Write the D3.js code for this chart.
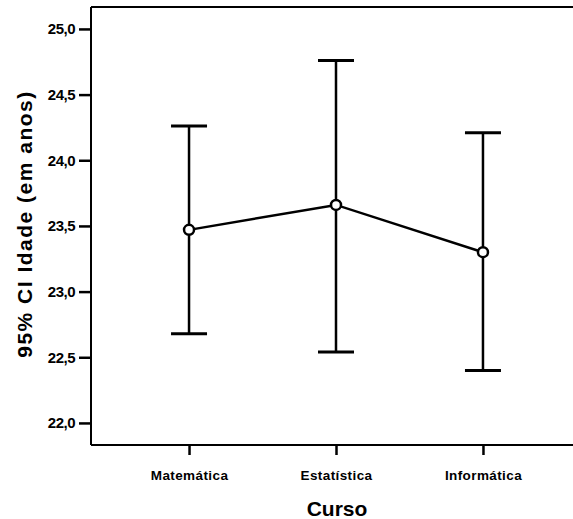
<!DOCTYPE html>
<html><head><meta charset="utf-8">
<script src="https://cdn.jsdelivr.net/npm/d3@7"></script>
<style>body{margin:0;background:#fff}svg{display:block}text{font-family:"Liberation Sans",Arial,sans-serif;font-weight:bold;fill:#000}</style>
</head><body><svg id="c" width="573" height="519"></svg>
<script>
const categories = ["Matemática", "Estatística", "Informática"];
const means = [23.47, 23.66, 23.30];
const lower = [22.68, 22.54, 22.40];
const upper = [24.26, 24.76, 24.21];
const yTicks = [22.0, 22.5, 23.0, 23.5, 24.0, 24.5, 25.0];
const xTitle = "Curso";
const yTitle = "95% CI Idade (em anos)";

const svg = d3.select("#c");
const L = 91, R = 581, T = 7, B = 445;
const x = d3.scalePoint().domain(categories).range([L, R]).padding(0.667);
const y = d3.scaleLinear().domain([21.832, 25.167]).range([B, T]);
const fmt = d => d3.format(".1f")(d).replace(".", ",");

// frame
svg.append("line").attr("x1", L).attr("x2", 573).attr("y1", T).attr("y2", T).attr("stroke", "#000").attr("stroke-width", 2);

const yAxis = svg.append("g").attr("transform", `translate(${L},0)`)
  .call(d3.axisLeft(y).tickValues(yTicks).tickFormat(fmt).tickSize(12).tickPadding(4));
yAxis.select(".domain").attr("stroke-width", 2).attr("d", `M0,${T}V${B}`);
yAxis.selectAll(".tick line").attr("stroke-width", 2.5);
yAxis.selectAll("text").style("font-size", "15px").attr("letter-spacing", "-0.5px");

const xAxis = svg.append("g").attr("transform", `translate(0,${B})`)
  .call(d3.axisBottom(x).tickSize(10).tickPadding(15));
xAxis.select(".domain").attr("stroke-width", 2).attr("d", `M${L},0H573`);
xAxis.selectAll(".tick line").attr("stroke-width", 2.5);
xAxis.selectAll("text").style("font-size", "13.5px").attr("letter-spacing", "0.4px");

svg.append("text").attr("x", 337).attr("y", 516).attr("text-anchor", "middle").style("font-size", "21px").text(xTitle);
svg.append("text").attr("transform", `translate(31.5,224) rotate(-90)`).attr("text-anchor", "middle")
  .style("font-size", "21px").attr("letter-spacing", "1.5px").text(yTitle);

const data = categories.map((c, i) => ({c, m: means[i], lo: lower[i], hi: upper[i]}));
const g = svg.append("g").attr("stroke", "#000").attr("fill", "none").attr("stroke-width", 2.5);
const cap = 18;
data.forEach(d => {
  const cx = x(d.c);
  g.append("line").attr("x1", cx).attr("x2", cx).attr("y1", y(d.lo)).attr("y2", y(d.hi));
  g.append("line").attr("x1", cx - cap).attr("x2", cx + cap).attr("y1", y(d.hi)).attr("y2", y(d.hi)).attr("stroke-width", 3);
  g.append("line").attr("x1", cx - cap).attr("x2", cx + cap).attr("y1", y(d.lo)).attr("y2", y(d.lo)).attr("stroke-width", 3);
});
g.append("path").attr("d", d3.line().x(d => x(d.c)).y(d => y(d.m))(data));
g.selectAll("circle").data(data).join("circle").attr("cx", d => x(d.c)).attr("cy", d => y(d.m)).attr("r", 5).attr("fill", "#fff");
</script></body></html>
